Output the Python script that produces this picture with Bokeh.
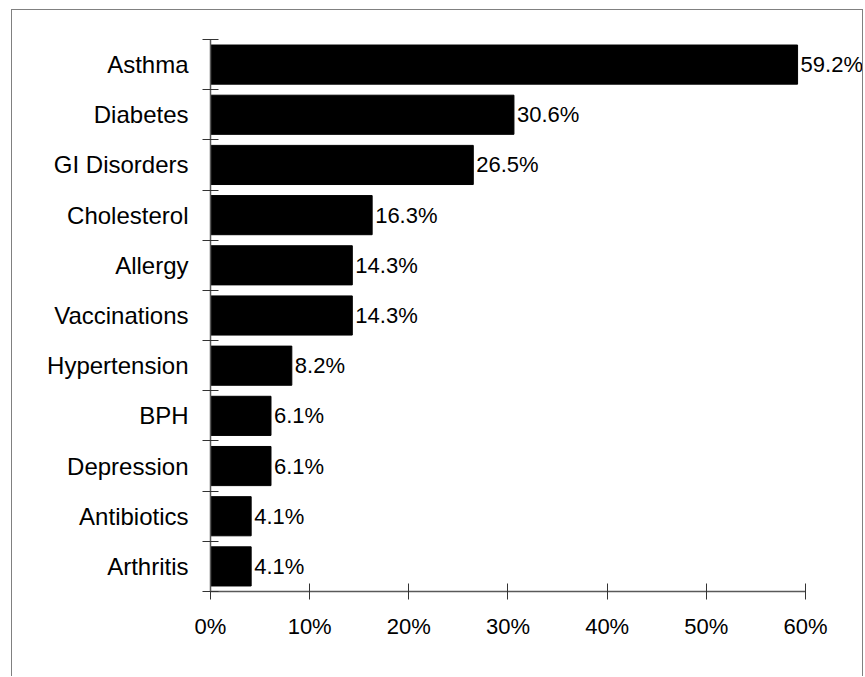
from bokeh.plotting import figure
from bokeh.models import FixedTicker, PrintfTickFormatter, Range1d, ColumnDataSource
from bokeh.embed import file_html
from bokeh.resources import INLINE
from bokeh.core.properties import value

# Share of respondents by therapeutic area (percent)
categories = ["Asthma", "Diabetes", "GI Disorders", "Cholesterol", "Allergy",
              "Vaccinations", "Hypertension", "BPH", "Depression",
              "Antibiotics", "Arthritis"]
shares = [59.2, 30.6, 26.5, 16.3, 14.3, 14.3, 8.2, 6.1, 6.1, 4.1, 4.1]
x_ticks = [0, 10, 20, 30, 40, 50, 60]

FONT = "Liberation Sans"
n = len(categories)
# first category drawn on top
centers = [n - i - 0.5 for i in range(n)]
boundaries = list(range(n + 1))

source = ColumnDataSource(dict(
    y=centers,
    share=shares,
    label=[f"{v:.1f}%" for v in shares],
))

p = figure(
    width=852, height=667,
    x_range=Range1d(0, 65.95), y_range=Range1d(0, n),
    output_backend="svg", toolbar_location=None,
    min_border_left=198, min_border_right=0,
    min_border_top=29, min_border_bottom=86,
    margin=(9, 0, 0, 11),
)
p.styles = {
    "border-left": "1px solid #808080",
    "border-top": "1px solid #808080",
    "border-right": "1px solid #808080",
}
p.outline_line_color = None
p.background_fill_color = "white"
p.border_fill_color = "white"
p.xgrid.visible = False
p.ygrid.visible = False

p.hbar(y="y", right="share", left=0, height=0.78, source=source,
       fill_color="black", line_color="black")

p.text(x="share", y="y", text="label", source=source,
       x_offset=3, text_baseline="middle", text_align="left",
       text_font=value(FONT), text_font_size="22px", text_color="black")

axis_color = "#595959"

xa = p.xaxis[0]
xa.ticker = FixedTicker(ticks=x_ticks)
xa.formatter = PrintfTickFormatter(format="%d%%")
xa.bounds = (0, 60)
xa.axis_line_color = axis_color
xa.axis_line_width = 1.5
xa.major_tick_in = 8
xa.major_tick_out = 8
xa.major_tick_line_color = "#333333"
xa.minor_tick_line_color = None
xa.major_label_text_font = FONT
xa.major_label_text_font_size = "22px"
xa.major_label_text_color = "black"
xa.major_label_standoff = 14

ya = p.yaxis[0]
ya.ticker = FixedTicker(ticks=centers, minor_ticks=boundaries)
ya.major_label_overrides = {c: name for c, name in zip(centers, categories)}
ya.axis_line_color = axis_color
ya.axis_line_width = 1.5
ya.major_tick_in = 0
ya.major_tick_out = 0
ya.minor_tick_in = 8
ya.minor_tick_out = 8
ya.minor_tick_line_color = "#333333"
ya.major_label_text_font = FONT
ya.major_label_text_font_size = "24px"
ya.major_label_text_color = "black"
ya.major_label_standoff = 14

open("out.html", "w").write(file_html(p, INLINE))
